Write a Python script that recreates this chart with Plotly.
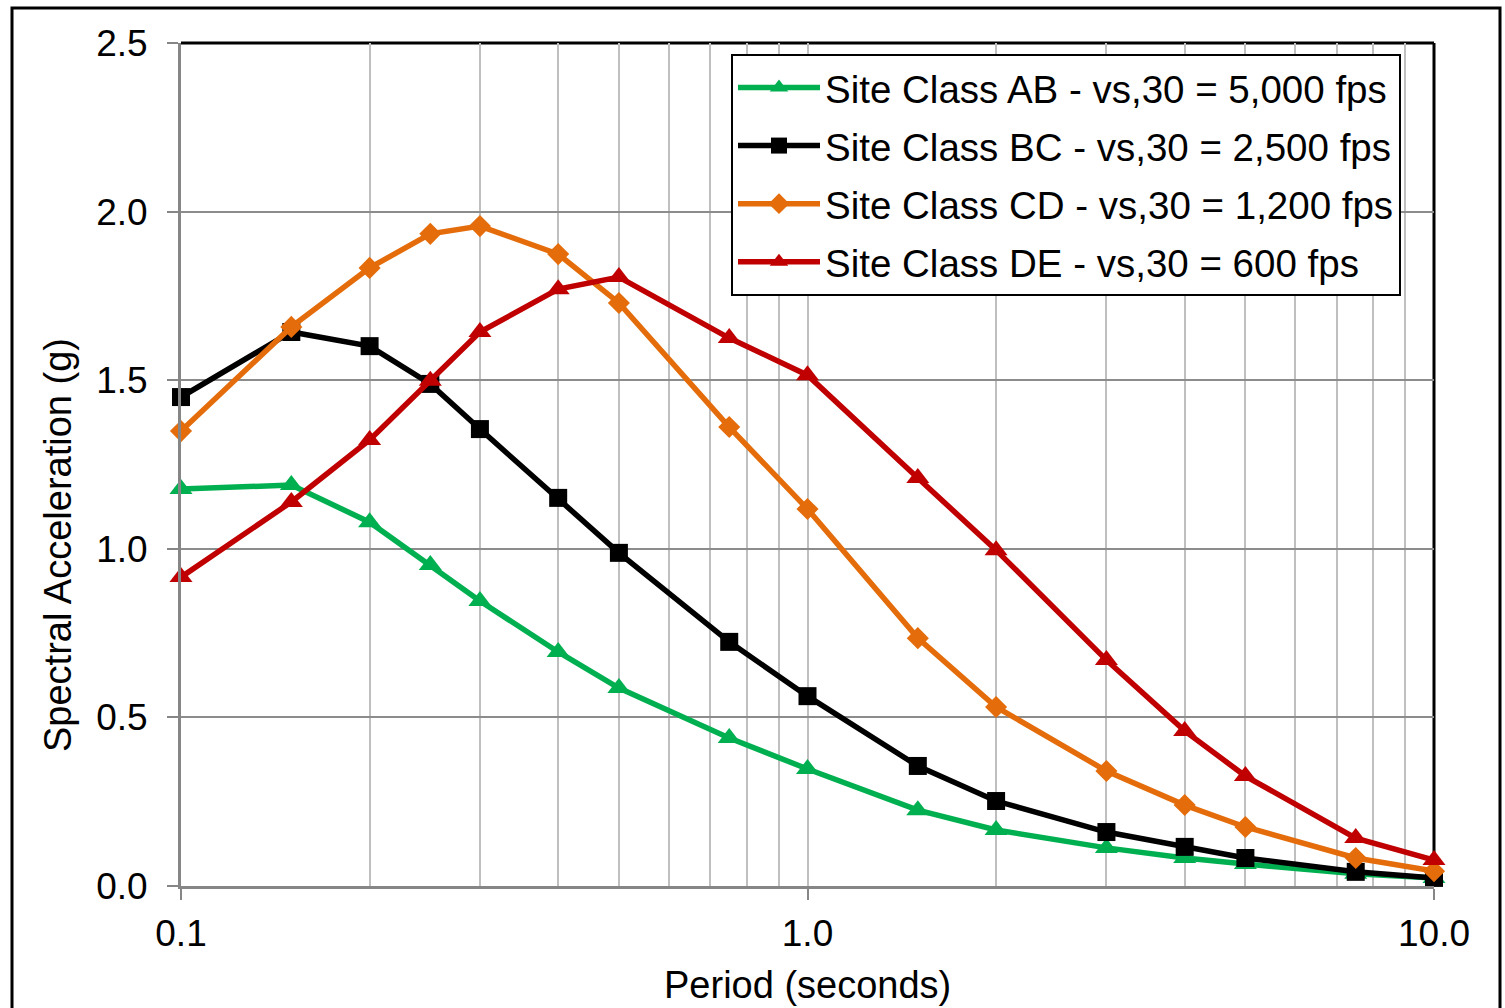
import plotly.graph_objects as go

periods = [0.1, 0.15, 0.2, 0.25, 0.3, 0.4, 0.5, 0.75, 1.0, 1.5, 2.0, 3.0, 4.0, 5.0, 7.5, 10.0]
sa_ab = [1.177, 1.189, 1.079, 0.952, 0.845, 0.694, 0.587, 0.439, 0.347, 0.225, 0.166, 0.113, 0.083, 0.065, 0.036, 0.024]
sa_bc = [1.450, 1.643, 1.601, 1.489, 1.355, 1.151, 0.988, 0.724, 0.563, 0.356, 0.252, 0.160, 0.116, 0.083, 0.042, 0.024]
sa_cd = [1.349, 1.658, 1.833, 1.934, 1.957, 1.874, 1.729, 1.361, 1.118, 0.735, 0.531, 0.341, 0.240, 0.175, 0.083, 0.044]
sa_de = [0.916, 1.139, 1.323, 1.498, 1.643, 1.770, 1.806, 1.625, 1.515, 1.210, 0.996, 0.670, 0.460, 0.326, 0.142, 0.077]

names = [
    "Site Class AB - vs,30 = 5,000 fps",
    "Site Class BC - vs,30 = 2,500 fps",
    "Site Class CD - vs,30 = 1,200 fps",
    "Site Class DE - vs,30 = 600 fps",
]
colors = ["#00B050", "#000000", "#E46C0A", "#C00000"]
symbols = ["triangle-up", "square", "diamond", "triangle-up"]
sizes = [20, 18, 17, 20]
series = [sa_ab, sa_bc, sa_cd, sa_de]

x_major = [0.1, 1.0, 10.0]
x_major_text = ["0.1", "1.0", "10.0"]
x_minor = [0.2, 0.3, 0.4, 0.5, 0.6, 0.7, 0.8, 0.9, 2, 3, 4, 5, 6, 7, 8, 9]
y_ticks = [0.0, 0.5, 1.0, 1.5, 2.0, 2.5]

FONT = "Liberation Sans, Arial, sans-serif"

fig = go.Figure()
for i, (nm, ys) in enumerate(zip(names, series)):
    fig.add_trace(go.Scatter(
        x=periods, y=ys, name=nm, mode="lines+markers",
        line=dict(color=colors[i], width=5.5),
        marker=dict(symbol=symbols[i], size=sizes[i], color=colors[i]),
        cliponaxis=False, legendgroup=f"g{i}",
    ))

W, H = 1505, 1008
L, R, T, B = 181, 1434, 43, 886
pw, ph = R - L, B - T

def px(xp):
    return (xp - L) / pw

def py(yp):
    return (B - yp) / ph

fig.update_layout(
    width=W, height=H,
    margin=dict(l=L, r=W - R, t=T, b=H - B),
    paper_bgcolor="white", plot_bgcolor="white",
    font=dict(family=FONT, size=37, color="black"),
    showlegend=True,
    legend=dict(
        x=px(731), y=py(54), xanchor="left", yanchor="top",
        bgcolor="white", bordercolor="black", borderwidth=2,
        font=dict(size=38.5, family=FONT), tracegroupgap=5, itemwidth=82,
    ),
    xaxis=dict(
        type="log", range=[-1, 1],
        tickvals=x_major, ticktext=x_major_text,
        ticks="outside", ticklen=11, tickwidth=2, tickcolor="#868686",
        showgrid=True, gridcolor="#BFBFBF", gridwidth=2,
        minor=dict(tickvals=x_minor, showgrid=True, gridcolor="#BFBFBF", gridwidth=2, ticks=""),
        showline=True, linecolor="#868686", linewidth=3,
        zeroline=False, tickfont=dict(size=37), ticklabelstandoff=2,
    ),
    yaxis=dict(
        range=[0, 2.5], tickvals=y_ticks, tickformat=".1f",
        ticks="outside", ticklen=11, tickwidth=2, tickcolor="#868686",
        showgrid=True, gridcolor="#8C8C8C", gridwidth=2,
        showline=True, linecolor="#868686", linewidth=3,
        zeroline=False, tickfont=dict(size=37), ticklabelstandoff=12,
    ),
)

# plot-area top/right border
fig.add_shape(type="line", xref="paper", yref="paper", x0=0, x1=1, y0=1, y1=1,
              line=dict(color="black", width=3), layer="between")
fig.add_shape(type="line", xref="paper", yref="paper", x0=1, x1=1, y0=0, y1=1,
              line=dict(color="black", width=3), layer="between")
# outer chart border
fig.add_shape(type="rect", xref="paper", yref="paper",
              x0=px(12), x1=px(1500), y0=py(1030), y1=py(8),
              line=dict(color="black", width=3), layer="below")

fig.add_annotation(text="Spectral Acceleration (g)", xref="paper", yref="paper",
                   x=px(58), y=py(545), textangle=-90, showarrow=False,
                   xanchor="center", yanchor="middle", font=dict(size=38, family=FONT))
fig.add_annotation(text="Period (seconds)", xref="paper", yref="paper",
                   x=px(807), y=py(985), showarrow=False,
                   xanchor="center", yanchor="middle", font=dict(size=38, family=FONT))

fig.write_html("out.html", config={"displayModeBar": False},
               post_script="document.body.style.margin='0';document.body.style.overflow='hidden';")
